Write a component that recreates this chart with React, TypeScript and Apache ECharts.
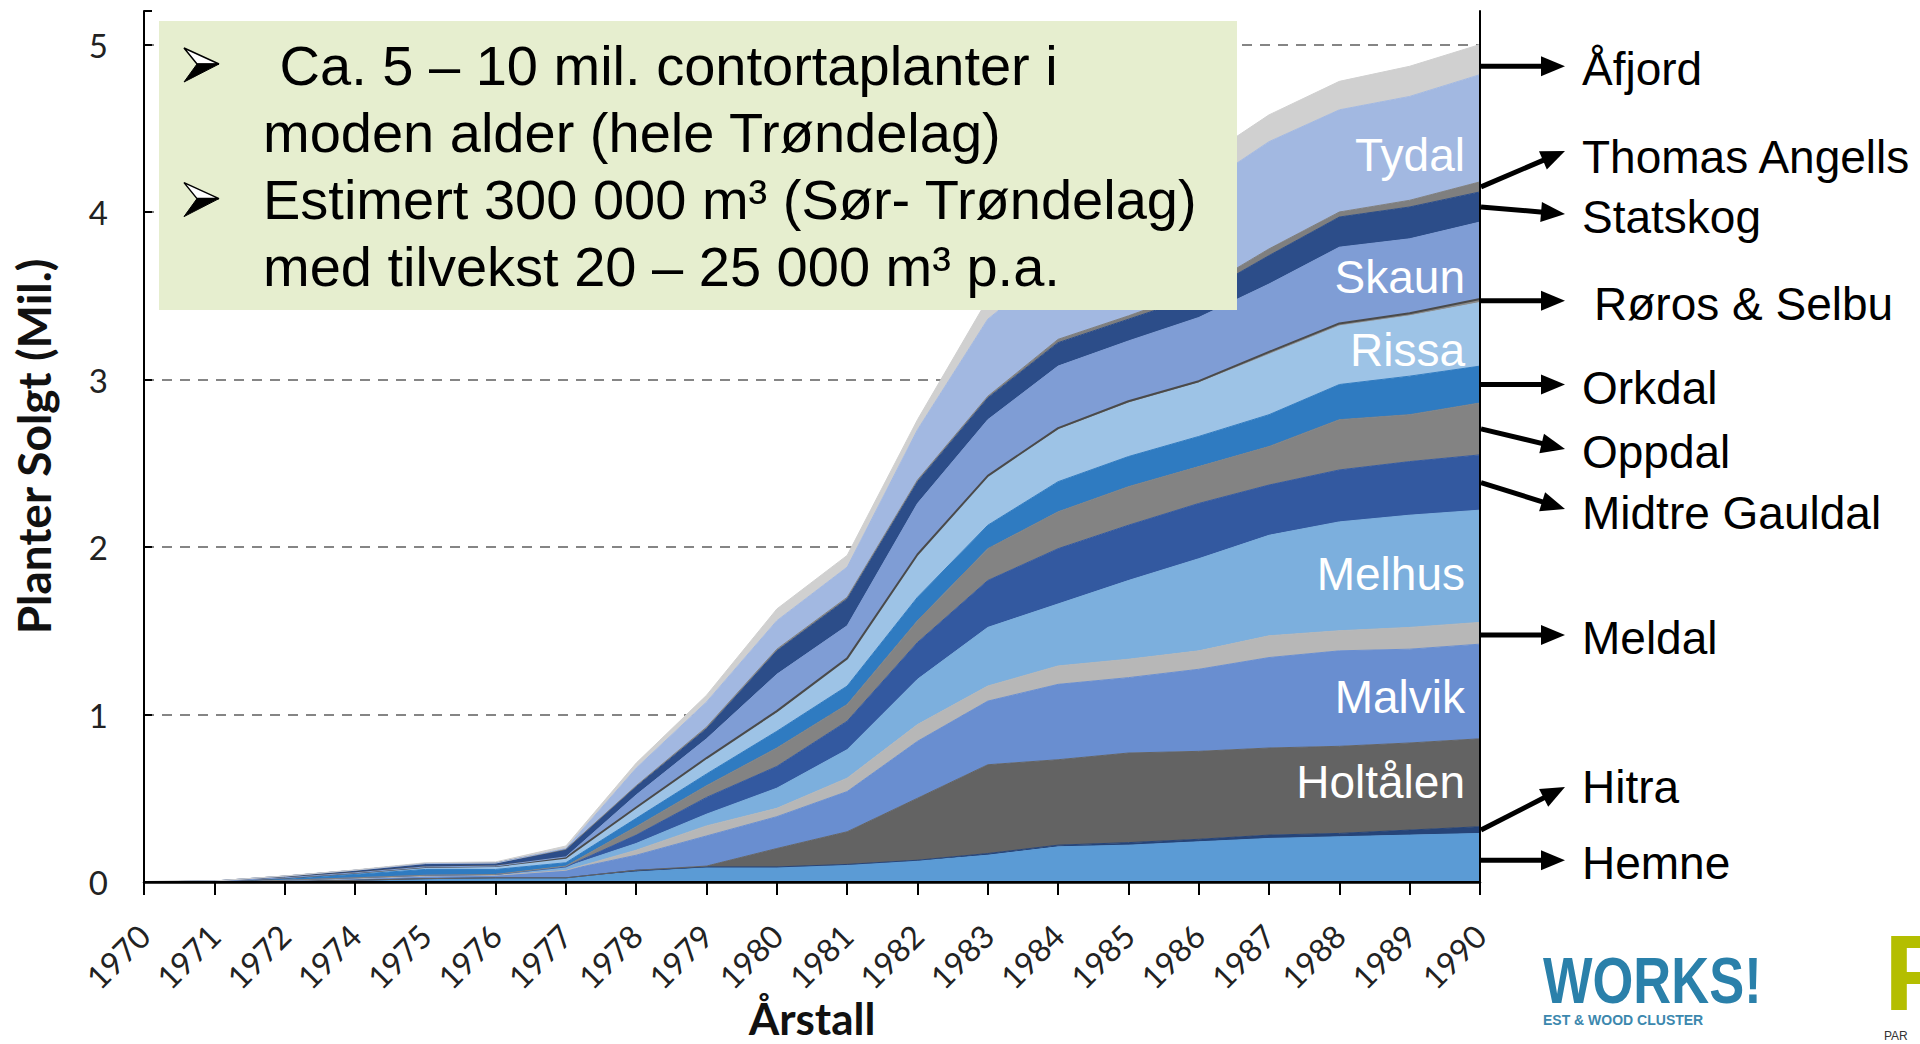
import React, { useEffect, useRef } from 'react';
import * as echarts from 'echarts';

const years = ['1970','1971','1972','1974','1975','1976','1977','1978','1979','1980','1981','1982','1983','1984','1985','1986','1987','1988','1989','1990'];

const seriesNames = ['Hemne','Hitra','Holtålen','Malvik','Meldal','Melhus','Midtre Gauldal','Oppdal','Orkdal','Rissa','Røros & Selbu','Skaun','Statskog','Thomas Angells','Tydal','Åfjord'];

const hemne =   [0, 0.001, 0.005, 0.01, 0.02, 0.025, 0.025, 0.06, 0.085, 0.085, 0.10, 0.125, 0.16, 0.21, 0.22, 0.24, 0.26, 0.27, 0.28, 0.29];
const hitra =   [0, 0, 0, 0, 0, 0, 0, 0.01, 0.005, 0.005, 0.005, 0.005, 0.01, 0.01, 0.015, 0.015, 0.02, 0.02, 0.03, 0.04];
const holtalen = [0, 0, 0, 0, 0, 0, 0, 0, 0.005, 0.11, 0.195, 0.37, 0.53, 0.51, 0.535, 0.525, 0.52, 0.52, 0.52, 0.525];
const malvik =  [0, 0, 0.005, 0.01, 0.015, 0.015, 0.045, 0.09, 0.18, 0.19, 0.24, 0.34, 0.38, 0.45, 0.45, 0.49, 0.54, 0.57, 0.56, 0.565];
const meldal =  [0, 0, 0, 0, 0, 0, 0, 0.03, 0.06, 0.05, 0.08, 0.10, 0.09, 0.11, 0.11, 0.11, 0.13, 0.12, 0.13, 0.13];
const melhus =  [0, 0, 0, 0.005, 0.005, 0.005, 0.02, 0.04, 0.07, 0.12, 0.17, 0.27, 0.35, 0.37, 0.47, 0.55, 0.60, 0.65, 0.67, 0.67];
const midtreGauldal = [0, 0, 0, 0, 0, 0, 0, 0.05, 0.10, 0.13, 0.17, 0.22, 0.28, 0.33, 0.33, 0.33, 0.30, 0.31, 0.32, 0.33];
const oppdal =  [0, 0, 0, 0, 0, 0, 0.005, 0.05, 0.07, 0.11, 0.10, 0.13, 0.19, 0.22, 0.23, 0.22, 0.23, 0.30, 0.28, 0.31];
const orkdal =  [0, 0.002, 0.01, 0.02, 0.035, 0.03, 0.02, 0.05, 0.07, 0.10, 0.11, 0.14, 0.14, 0.18, 0.18, 0.18, 0.19, 0.21, 0.23, 0.22];
const rissa =   [0, 0, 0.005, 0.01, 0.015, 0.02, 0.03, 0.06, 0.09, 0.11, 0.16, 0.25, 0.29, 0.31, 0.32, 0.32, 0.36, 0.35, 0.36, 0.38];
const rorosSelbu = [0, 0, 0, 0, 0, 0, 0, 0.005, 0.005, 0.01, 0.005, 0.005, 0.005, 0.01, 0.01, 0.01, 0.015, 0.015, 0.015, 0.02];
const skaun =   [0, 0, 0, 0, 0, 0, 0.005, 0.075, 0.115, 0.22, 0.195, 0.305, 0.335, 0.37, 0.36, 0.38, 0.405, 0.455, 0.445, 0.46];
const statskog = [0, 0.003, 0.01, 0.015, 0.02, 0.018, 0.045, 0.05, 0.06, 0.14, 0.16, 0.13, 0.13, 0.14, 0.13, 0.13, 0.17, 0.18, 0.19, 0.18];
const thomasAngells = [0, 0, 0, 0, 0, 0, 0, 0.005, 0.01, 0.01, 0.01, 0.01, 0.01, 0.02, 0.02, 0.03, 0.04, 0.03, 0.04, 0.06];
const tydal =   [0, 0, 0, 0, 0, 0, 0.005, 0.105, 0.15, 0.17, 0.18, 0.30, 0.46, 0.46, 0.57, 0.61, 0.64, 0.61, 0.62, 0.64];
const afjord =  [0, 0, 0.001, 0.002, 0.005, 0.007, 0.015, 0.03, 0.04, 0.07, 0.07, 0.06, 0.12, 0.14, 0.13, 0.16, 0.16, 0.17, 0.18, 0.18];

const seriesValues = [hemne, hitra, holtalen, malvik, meldal, melhus, midtreGauldal, oppdal, orkdal, rissa, rorosSelbu, skaun, statskog, thomasAngells, tydal, afjord];

const seriesColors = ['#5B9BD5','#264478','#636363','#698ED0','#B7B7B7','#7CAFDD','#3359A0','#838383','#2F7BC1','#9DC3E6','#8A8A8A','#7F9DD5','#2C4D89','#7F7F7F','#A2B8E1','#D0D0D0'];

const yTicks = [0, 1, 2, 3, 4, 5];

const bulletLines = [
  { bullet: true, text: ' Ca. 5 – 10 mil. contortaplanter i' },
  { bullet: false, text: 'moden alder (hele Trøndelag)' },
  { bullet: true, text: 'Estimert 300 000 m³ (Sør- Trøndelag)' },
  { bullet: false, text: 'med tilvekst 20 – 25 000 m³ p.a.' },
];

// right-side annotations: series index, fixed label y (null = follow arrow), arrow end y (null = horizontal), off = shift of arrow start in axis units
const annotations = [
  { name: 'Åfjord', s: 15, labelY: null, endY: null, off: -0.04 },
  { name: 'Thomas Angells', s: 13, labelY: 157, endY: 151, off: 0 },
  { name: 'Statskog', s: 12, labelY: 217, endY: 214, off: 0 },
  { name: 'Røros & Selbu', s: 10, labelY: null, endY: null, off: 0, dx: 12 },
  { name: 'Orkdal', s: 8, labelY: null, endY: null, off: 0 },
  { name: 'Oppdal', s: 7, labelY: 452, endY: 449, off: 0 },
  { name: 'Midtre Gauldal', s: 6, labelY: 513, endY: 509, off: 0 },
  { name: 'Meldal', s: 4, labelY: null, endY: null, off: -0.01 },
  { name: 'Hitra', s: 1, labelY: 787, endY: 787, off: 0 },
  { name: 'Hemne', s: 0, labelY: null, endY: null, off: -0.015 },
];

const innerLabels = [
  { text: 'Tydal', y: 155 },
  { text: 'Skaun', y: 277 },
  { text: 'Rissa', y: 350 },
  { text: 'Melhus', y: 574 },
  { text: 'Malvik', y: 697 },
  { text: 'Holtålen', y: 782 },
];

export default function App() {
  const ref = useRef<HTMLDivElement>(null);

  useEffect(() => {
    if (!ref.current) return;
    const chart = echarts.init(ref.current, null, { renderer: 'svg' });

    const series = seriesNames.map((name, i) => ({
      name,
      type: 'line',
      stack: 'total',
      data: seriesValues[i],
      symbol: 'none',
      showSymbol: false,
      smooth: false,
      lineStyle: name === 'Røros & Selbu'
        ? { width: 2, color: '#4A4A4A' }
        : { width: 1, color: seriesColors[i] },
      areaStyle: { color: seriesColors[i], opacity: 1 },
      emphasis: { disabled: true },
      z: 2,
    }));

    const axisFont = 'Lato, "Open Sans", sans-serif';

    chart.setOption({
      animation: false,
      backgroundColor: '#ffffff',
      grid: { left: 144, top: 11, right: 440, bottom: 162, containLabel: false, outerBoundsMode: 'none' },
      xAxis: [
        {
          type: 'category',
          data: years,
          boundaryGap: false,
          position: 'bottom',
          z: 10,
          axisLine: { show: true, lineStyle: { color: '#000', width: 2.5 } },
          axisTick: { show: true, interval: 0, length: 13, lineStyle: { color: '#000', width: 2 } },
          axisLabel: { interval: 0, rotate: 45, fontSize: 32, fontFamily: axisFont, color: '#222', margin: 48 },
          splitLine: { show: false },
          name: 'Årstall',
          nameLocation: 'middle',
          nameGap: 116,
          nameMoveOverlap: false,
          nameTextStyle: { fontFamily: axisFont, fontWeight: 'bold', fontSize: 44, color: '#111', lineHeight: 40 },
        },
        {
          type: 'category',
          data: years,
          boundaryGap: false,
          position: 'top',
          z: 10,
          axisLine: { show: true, lineStyle: { color: '#000', width: 2 } },
          axisTick: { show: false },
          axisLabel: { show: false },
          splitLine: { show: false },
        },
      ],
      yAxis: [
        {
          type: 'value',
          min: 0,
          max: 5.2,
          interval: 1,
          position: 'left',
          axisLine: { show: false },
          axisTick: { show: false },
          axisLabel: {
            fontSize: 33,
            fontFamily: axisFont,
            color: '#222',
            margin: 36,
            formatter: (v: number) => (yTicks.indexOf(v) >= 0 ? String(v) : ''),
          },
          splitLine: { show: true, showMaxLine: false, showMinLine: false, lineStyle: { color: '#858585', width: 2, type: [10, 8] } },
          name: 'Planter Solgt (Mil.)',
          nameLocation: 'middle',
          nameGap: 88,
          nameTextStyle: { fontFamily: axisFont, fontWeight: 'bold', fontSize: 46, color: '#111' },
        },
        {
          type: 'value',
          min: 0,
          max: 5.2,
          interval: 1,
          position: 'right',
          z: 10,
          axisLine: { show: true, lineStyle: { color: '#000', width: 2 } },
          axisTick: { show: false },
          axisLabel: { show: false },
          splitLine: { show: false },
        },
        {
          type: 'value',
          min: 0,
          max: 5.2,
          interval: 1,
          position: 'left',
          z: 10,
          axisLine: { show: true, lineStyle: { color: '#000', width: 2 } },
          axisTick: { show: true, inside: true, length: 8, lineStyle: { color: '#000', width: 2 } },
          axisLabel: { show: false },
          splitLine: { show: false },
        },
      ],
      series,
    });

    const last = years.length - 1;
    const graphics: any[] = [];
    const labelFont = '"Liberation Sans", Arial, sans-serif';

    // text box
    graphics.push({
      type: 'rect',
      shape: { x: 159, y: 21, width: 1078, height: 289 },
      style: { fill: '#E6EECF' },
      z: 100,
    });
    bulletLines.forEach((ln, i) => {
      const y = 65 + i * 67.3;
      if (ln.bullet) {
        const t = y - 1;
        graphics.push({
          type: 'polygon',
          shape: { points: [[184, t - 16], [219, t], [197, t]] },
          style: { fill: '#ffffff', stroke: '#000', lineWidth: 1.5, lineJoin: 'miter' },
          z: 101,
        });
        graphics.push({
          type: 'polygon',
          shape: { points: [[197, t], [219, t], [184, t + 18]] },
          style: { fill: '#000', stroke: '#000', lineWidth: 1 },
          z: 101,
        });
      }
      graphics.push({
        type: 'text',
        x: ln.bullet && i === 0 ? 264 : 263,
        y,
        style: { text: ln.text, fontSize: 56, fontFamily: labelFont, fill: '#000', align: 'left', verticalAlign: 'middle' },
        z: 101,
      });
    });

    // arrows and names at right
    const tipX = 1565;
    annotations.forEach((a) => {
      let below = 0;
      for (let k = 0; k < a.s; k++) below += seriesValues[k][last];
      const mid = below + seriesValues[a.s][last] / 2 + a.off;
      const p = chart.convertToPixel({ xAxisIndex: 0, yAxisIndex: 0 }, [last, mid]) as number[];
      const sx = p[0] + 1;
      const sy = p[1];
      const ey = a.endY == null ? sy : a.endY;
      const ly = a.labelY == null ? sy + 3 : a.labelY;
      const dx = tipX - sx;
      const dy = ey - sy;
      const len = Math.sqrt(dx * dx + dy * dy);
      const ux = dx / len;
      const uy = dy / len;
      const headL = 24;
      const headW = 20;
      const bx = tipX - ux * headL;
      const by = ey - uy * headL;
      graphics.push({
        type: 'line',
        shape: { x1: sx, y1: sy, x2: bx + ux * 2, y2: by + uy * 2 },
        style: { stroke: '#000', lineWidth: 5 },
        z: 50,
      });
      graphics.push({
        type: 'polygon',
        shape: {
          points: [
            [tipX, ey],
            [bx - uy * headW / 2, by + ux * headW / 2],
            [bx + uy * headW / 2, by - ux * headW / 2],
          ],
        },
        style: { fill: '#000' },
        z: 50,
      });
      graphics.push({
        type: 'text',
        x: 1582 + (a.dx || 0),
        y: ly,
        style: { text: a.name, fontSize: 46, fontFamily: labelFont, fill: '#000', align: 'left', verticalAlign: 'middle' },
        z: 50,
      });
    });

    innerLabels.forEach((l) => {
      graphics.push({
        type: 'text',
        x: 1465,
        y: l.y,
        style: { text: l.text, fontSize: 46, fontFamily: labelFont, fill: '#ffffff', align: 'right', verticalAlign: 'middle' },
        z: 40,
      });
    });

    // logos (text)
    graphics.push({
      type: 'text',
      x: 1543,
      y: 981,
      scaleX: 0.82,
      style: { text: 'WORKS!', fontSize: 64, fontWeight: 'bold', fontFamily: labelFont, fill: '#2A80AA', align: 'left', verticalAlign: 'middle', lineHeight: 56 },
      z: 30,
    });
    graphics.push({
      type: 'text',
      x: 1543,
      y: 1020,
      style: { text: 'EST & WOOD CLUSTER', fontSize: 14, fontWeight: 'bold', fontFamily: labelFont, fill: '#3C88AE', align: 'left', verticalAlign: 'middle', lineHeight: 14 },
      z: 30,
    });
    graphics.push({
      type: 'text',
      x: 1884,
      y: 972,
      style: { text: 'P', fontSize: 108, fontWeight: 'bold', fontFamily: labelFont, fill: '#B4BE00', align: 'left', verticalAlign: 'middle', lineHeight: 80 },
      z: 30,
    });
    graphics.push({
      type: 'text',
      x: 1884,
      y: 1036,
      style: { text: 'PAR', fontSize: 12, fontFamily: labelFont, fill: '#333', align: 'left', verticalAlign: 'middle', lineHeight: 11 },
      z: 30,
    });

    chart.setOption({ graphic: graphics });

    return () => {
      chart.dispose();
    };
  }, []);

  return (
    <div
      ref={ref}
      style={{ position: 'fixed', left: 0, top: 0, width: '1920px', height: '1044px', background: '#fff' }}
    />
  );
}
